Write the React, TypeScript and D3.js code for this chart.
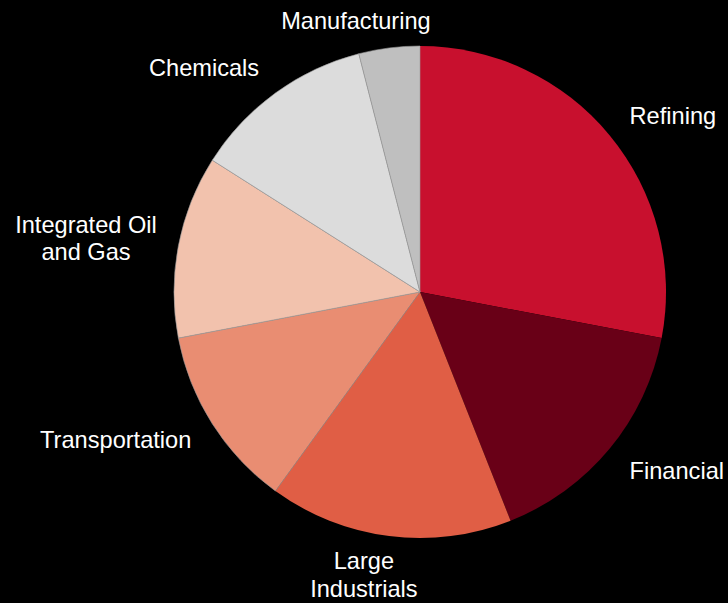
import React, { useEffect } from "react";
import * as d3 from "d3";

const categories = ["Refining", "Financial", "Large Industrials", "Transportation", "Integrated Oil and Gas", "Chemicals", "Manufacturing"];
const labelLines = [["Refining"], ["Financial"], ["Large", "Industrials"], ["Transportation"], ["Integrated Oil", "and Gas"], ["Chemicals"], ["Manufacturing"]];
const values = [28, 16, 16, 12, 12, 12, 4];
const colors = ["#C8102E", "#690017", "#E05E45", "#E98D72", "#F2C2AD", "#DCDCDC", "#BFBFBF"];
// label nudges (px) relative to the computed outside anchor
const labelDx = [0, 0, -22, 1, 4, -1, -30];
const labelDy = [-3, 5, 13, 2, -3, -4, -1];

const W = 728;
const H = 603;
const CX = 420;
const CY = 292;
const R = 246;
const RL = 272;
const FONT_SIZE = 23.6;
const LINE_H = 27.5;
const FONT = `${FONT_SIZE}px 'Liberation Sans', Arial, sans-serif`;

function measure(text: string): number {
  const c = document.createElement("canvas").getContext("2d");
  if (!c) return text.length * FONT_SIZE * 0.5;
  c.font = FONT;
  return c.measureText(text).width;
}

export default function App() {
  useEffect(() => {
    document.body.style.margin = "0";
    document.body.style.background = "#000";
  }, []);

  const pie = d3.pie<number>().sort(null).value((d) => d);
  const arcs = pie(values);
  const arc = d3.arc<d3.PieArcDatum<number>>().innerRadius(0).outerRadius(R);

  return (
    <svg width={W} height={H} style={{ display: "block", background: "#000", position: "absolute", left: 0, top: 0 }}>
      <g transform={`translate(${CX},${CY})`}>
        {arcs.map((a, i) => (
          <path key={categories[i]} d={arc(a) || ""} fill={colors[i]} stroke="#9a9a9a" strokeWidth={0.6} strokeOpacity={i < 3 ? 0 : 1} />
        ))}
      </g>
      {arcs.map((a, i) => {
        const mid = (a.startAngle + a.endAngle) / 2;
        const px = CX + Math.sin(mid) * RL + labelDx[i];
        const py = CY - Math.cos(mid) * RL + labelDy[i];
        const lines = labelLines[i];
        const maxW = Math.max(...lines.map(measure));
        const s = Math.sin(mid);
        let centerX: number;
        if (s > 0.3) centerX = px + maxW / 2;
        else if (s < -0.3) centerX = px - maxW / 2;
        else centerX = px;
        const n = lines.length;
        const firstBaseline = py - ((n - 1) * LINE_H) / 2 + FONT_SIZE * 0.35;
        return (
          <text key={categories[i]} fill="#fff" fontFamily="'Liberation Sans', Arial, sans-serif" fontSize={FONT_SIZE} textAnchor="middle">
            {lines.map((l, j) => (
              <tspan key={j} x={centerX} y={firstBaseline + j * LINE_H}>{l}</tspan>
            ))}
          </text>
        );
      })}
    </svg>
  );
}
